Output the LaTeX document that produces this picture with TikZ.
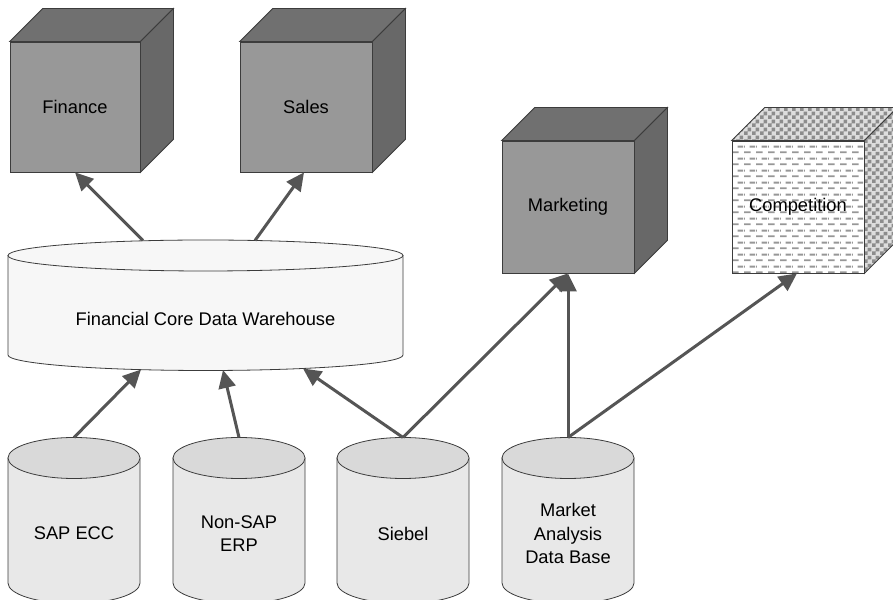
\documentclass[tikz,border=0pt]{standalone}
\usepackage{fontspec}
\setmainfont{Liberation Sans}
\usetikzlibrary{arrows.meta,patterns,calc}
\definecolor{edge}{HTML}{3C3C3C}
\definecolor{arrowc}{HTML}{555555}
\definecolor{cubefront}{HTML}{989898}
\definecolor{cubetop}{HTML}{707070}
\definecolor{cubeside}{HTML}{686868}
\definecolor{dbbody}{HTML}{E8E8E8}
\definecolor{dbtop}{HTML}{D9D9D9}
\definecolor{whbody}{HTML}{F7F7F7}
\definecolor{chkA}{HTML}{DDDDDD}
\definecolor{chkB}{HTML}{8C8C8C}
\pgfdeclarepatternformonly{mycheckers}{\pgfqpoint{0pt}{0pt}}{\pgfqpoint{8pt}{8pt}}{\pgfqpoint{8pt}{8pt}}{%
  \pgfpathrectangle{\pgfqpoint{0pt}{0pt}}{\pgfqpoint{4pt}{4pt}}%
  \pgfpathrectangle{\pgfqpoint{4pt}{4pt}}{\pgfqpoint{4pt}{4pt}}%
  \pgfusepath{fill}}
\pgfdeclarepatternformonly{mydashes}{\pgfqpoint{0pt}{0pt}}{\pgfqpoint{12pt}{12pt}}{\pgfqpoint{12pt}{12pt}}{%
  \pgfpathrectangle{\pgfqpoint{0pt}{2pt}}{\pgfqpoint{7pt}{2pt}}%
  \pgfpathrectangle{\pgfqpoint{6pt}{8pt}}{\pgfqpoint{6pt}{2pt}}%
  \pgfpathrectangle{\pgfqpoint{0pt}{8pt}}{\pgfqpoint{1pt}{2pt}}%
  \pgfusepath{fill}}
\tikzset{
  lbl/.style={font=\fontsize{18.3}{23.5}\selectfont, align=center, text=black},
  cubebox/.style={draw=edge, line width=0.8pt, fill=cubefront, minimum width=130pt, minimum height=130pt, inner sep=0pt, lbl},
  compbox/.style={draw=edge, line width=0.8pt, fill=white, pattern=mydashes, pattern color=chkB!90, minimum width=132pt, minimum height=132pt, inner sep=0pt, lbl},
  face/.style={draw=edge, line width=0.8pt},
  arr/.style={draw=arrowc, line width=3pt, -{Triangle[length=18pt,width=17pt]}, shorten >=0pt},
}
\newcommand{\cubeparts}[2]{%
  \filldraw[face, fill=#2] (#1.north west) -- ++(33,33) -- ($(#1.north east)+(33,33)$) -- (#1.north east) -- cycle;
  \filldraw[face, fill=#2!92!black] (#1.north east) -- ++(33,33) -- ($(#1.south east)+(33,33)$) -- (#1.south east) -- cycle;}
\newcommand{\dbcyl}[4]{% center x, top center y, name, label
  \filldraw[draw=edge, line width=0.8pt, fill=dbbody] (#1-66,#2) -- (#1-66,16) arc[start angle=180,end angle=360,x radius=66pt,y radius=20.5pt] -- (#1+66,#2) -- cycle;
  \filldraw[draw=edge, line width=0.8pt, fill=dbtop] (#1,#2) ellipse[x radius=66pt, y radius=20.5pt];
  \coordinate (#3top) at (#1,#2+20.5);
  \node[lbl] (#3) at (#1,65.5) {#4};}
\begin{document}
\begin{tikzpicture}[x=1pt,y=1pt]
\useasboundingbox (0,0) rectangle (893,599);
\clip (0,0) rectangle (893,599);
\fill[white] (0,0) rectangle (893,599);
% cubes
\node[cubebox, minimum width=130pt] (fin) at (75,492) {Finance};
\filldraw[face, fill=cubetop] (fin.north west) -- ++(33,33) -- ($(fin.north east)+(33,33)$) -- (fin.north east) -- cycle;
\filldraw[face, fill=cubeside] (fin.north east) -- ++(33,33) -- ($(fin.south east)+(33,33)$) -- (fin.south east) -- cycle;
\node[cubebox, minimum width=132pt] (sal) at (306,492) {Sales};
\filldraw[face, fill=cubetop] (sal.north west) -- ++(33,33) -- ($(sal.north east)+(33,33)$) -- (sal.north east) -- cycle;
\filldraw[face, fill=cubeside] (sal.north east) -- ++(33,33) -- ($(sal.south east)+(33,33)$) -- (sal.south east) -- cycle;
\node[cubebox, minimum width=132pt, minimum height=132pt] (mkt) at (568,392) {Marketing};
\filldraw[face, fill=cubetop] (mkt.north west) -- ++(33,33) -- ($(mkt.north east)+(33,33)$) -- (mkt.north east) -- cycle;
\filldraw[face, fill=cubeside] (mkt.north east) -- ++(33,33) -- ($(mkt.south east)+(33,33)$) -- (mkt.south east) -- cycle;
\fill[white] (732,326) rectangle (864,458);
\node[compbox] (cmp) at (798,392) {Competition};
\fill[chkA] (cmp.north west) -- ++(33,33) -- ($(cmp.north east)+(33,33)$) -- (cmp.north east) -- cycle;
\fill[chkA] (cmp.north east) -- ++(33,33) -- ($(cmp.south east)+(33,33)$) -- (cmp.south east) -- cycle;
\filldraw[face, pattern=mycheckers, pattern color=chkB] (cmp.north west) -- ++(33,33) -- ($(cmp.north east)+(33,33)$) -- (cmp.north east) -- cycle;
\filldraw[face, pattern=mycheckers, pattern color=chkB] (cmp.north east) -- ++(33,33) -- ($(cmp.south east)+(33,33)$) -- (cmp.south east) -- cycle;
% warehouse
\filldraw[draw=edge, line width=0.8pt, fill=whbody] (8,343.5) -- (8,244) arc[start angle=180,end angle=360,x radius=197.5pt,y radius=15.5pt] -- (403,343.5) -- cycle;
\filldraw[draw=edge, line width=0.8pt, fill=whbody] (205.5,343.5) ellipse[x radius=197.5pt, y radius=15.5pt];
\node[lbl] (wh) at (205.5,280) {Financial Core Data Warehouse};
\coordinate (whA) at (143,358.5);
\coordinate (whB) at (255,358.5);
\coordinate (whC) at (141,229.5);
\coordinate (whD) at (223,229);
\coordinate (whE) at (303,230.5);
% sources
\dbcyl{74}{141}{sap}{SAP ECC}
\dbcyl{239}{141}{non}{Non-SAP\\ERP}
\dbcyl{403}{141}{sie}{Siebel}
\dbcyl{568}{141}{mad}{Market\\Analysis\\Data Base}
% arrows
\draw[arr] (whA) -- (fin.south);
\draw[arr] (whB) -- ($(sal.south)+(-2,0)$);
\draw[arr] (saptop) -- (whC);
\draw[arr] (nontop) -- (whD);
\draw[arr] (sietop) -- (whE);
\draw[arr] (sietop) -- (mkt.south);
\draw[arr] (madtop) -- (mkt.south);
\draw[arr] (madtop) -- ($(cmp.south)+(-1,0)$);
\end{tikzpicture}
\end{document}
